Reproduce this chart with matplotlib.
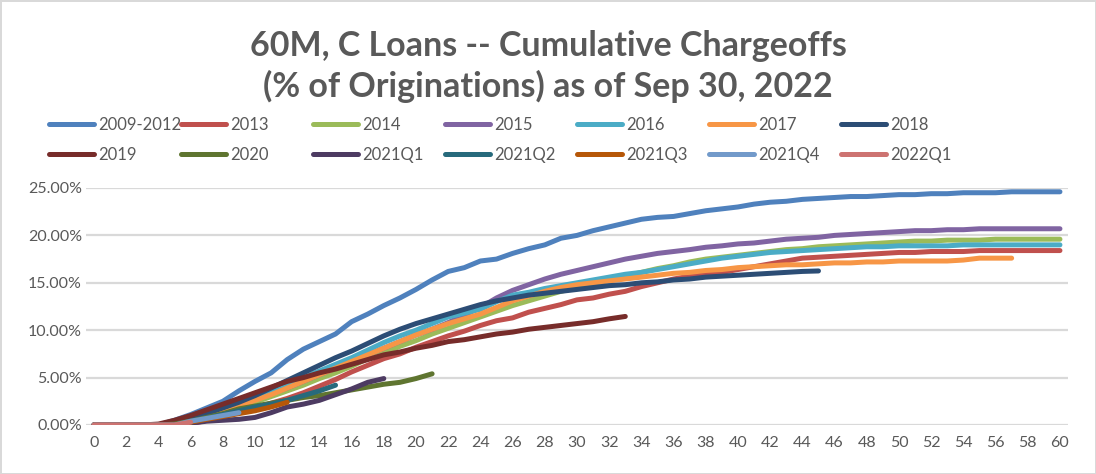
import numpy as np
import matplotlib
matplotlib.use("Agg")
import matplotlib.pyplot as plt
from matplotlib.ticker import FuncFormatter, MultipleLocator

# ---------------- data ----------------
months = list(range(61))
tick_months = list(range(0, 61, 2))

labels = ["2009-2012", "2013", "2014", "2015", "2016", "2017", "2018",
          "2019", "2020", "2021Q1", "2021Q2", "2021Q3", "2021Q4", "2022Q1"]

s_2009_2012 = [0, 0, 0, 0, 0, 0.5, 1.1, 1.8, 2.5, 3.6, 4.6, 5.5, 6.9, 8.0, 8.8, 9.6,
               10.9, 11.7, 12.6, 13.4, 14.3, 15.3, 16.2, 16.6, 17.3, 17.5, 18.1, 18.6,
               19.0, 19.7, 20.0, 20.5, 20.9, 21.3, 21.7, 21.9, 22.0, 22.3, 22.6, 22.8,
               23.0, 23.3, 23.5, 23.6, 23.8, 23.9, 24.0, 24.1, 24.1, 24.2, 24.3, 24.3,
               24.4, 24.4, 24.5, 24.5, 24.5, 24.6, 24.6, 24.6, 24.6]
s_2013 = [0, 0, 0, 0, 0, 0, 0.1, 0.5, 0.9, 1.3, 1.8, 2.3, 2.8, 3.4, 4.1, 4.8, 5.6,
          6.3, 7.0, 7.5, 8.2, 8.8, 9.4, 9.9, 10.5, 11.0, 11.3, 11.9, 12.3, 12.7, 13.2,
          13.4, 13.8, 14.1, 14.6, 15.0, 15.4, 15.7, 15.9, 16.1, 16.4, 16.7, 17.0,
          17.3, 17.6, 17.7, 17.8, 17.9, 18.0, 18.1, 18.2, 18.2, 18.3, 18.3, 18.3,
          18.4, 18.4, 18.4, 18.4, 18.4, 18.4]
s_2014 = [0, 0, 0, 0, 0, 0.1, 0.4, 0.8, 1.3, 1.8, 2.4, 3.0, 3.6, 4.2, 4.9, 5.5, 6.2,
          7.0, 7.6, 8.3, 8.9, 9.6, 10.2, 10.8, 11.4, 12.0, 12.6, 13.1, 13.6, 14.1,
          14.5, 14.9, 15.3, 15.7, 16.1, 16.5, 16.8, 17.2, 17.5, 17.7, 17.9, 18.1,
          18.3, 18.5, 18.6, 18.8, 18.9, 19.0, 19.1, 19.2, 19.3, 19.4, 19.4, 19.5,
          19.5, 19.5, 19.6, 19.6, 19.6, 19.6, 19.6]
s_2015 = [0, 0, 0, 0, 0, 0.2, 0.5, 1.0, 1.5, 2.1, 2.7, 3.3, 3.9, 4.6, 5.3, 6.0, 6.7,
          7.4, 8.1, 8.8, 9.5, 10.1, 10.8, 11.6, 12.4, 13.4, 14.2, 14.8, 15.4, 15.9,
          16.3, 16.7, 17.1, 17.5, 17.8, 18.1, 18.3, 18.5, 18.75, 18.9, 19.1, 19.2,
          19.4, 19.6, 19.7, 19.8, 20.0, 20.1, 20.2, 20.3, 20.4, 20.5, 20.5, 20.6,
          20.6, 20.7, 20.7, 20.7, 20.7, 20.7, 20.7]
s_2016 = [0, 0, 0, 0, 0, 0.2, 0.6, 1.1, 1.7, 2.3, 2.9, 3.6, 4.3, 5.0, 5.7, 6.4, 7.1,
          7.9, 8.7, 9.4, 10.0, 10.7, 11.4, 11.8, 12.2, 13.0, 13.7, 14.0, 14.4, 14.7,
          15.0, 15.3, 15.6, 15.9, 16.1, 16.4, 16.7, 17.0, 17.3, 17.6, 17.8, 18.0,
          18.2, 18.3, 18.4, 18.5, 18.6, 18.7, 18.8, 18.8, 18.9, 18.9, 18.9, 18.9,
          19.0, 19.0, 19.0, 19.0, 19.0, 19.0, 19.0]
s_2017 = [0, 0, 0, 0, 0, 0.1, 0.4, 0.9, 1.4, 2.0, 2.6, 3.2, 3.9, 4.6, 5.3, 6.0, 6.7,
          7.4, 8.1, 8.8, 9.5, 10.1, 10.7, 11.2, 11.7, 12.4, 13.1, 13.6, 14.1, 14.5,
          14.8, 15.0, 15.2, 15.4, 15.6, 15.8, 16.0, 16.1, 16.3, 16.4, 16.6, 16.7,
          16.8, 16.9, 16.9, 17.0, 17.1, 17.1, 17.2, 17.2, 17.3, 17.3, 17.3, 17.3,
          17.4, 17.6, 17.6, 17.6]
s_2018 = [0, 0, 0, 0, 0, 0.2, 0.7, 1.2, 1.8, 2.4, 3.1, 3.9, 4.7, 5.5, 6.3, 7.1, 7.8,
          8.6, 9.4, 10.1, 10.7, 11.2, 11.7, 12.2, 12.7, 13.1, 13.4, 13.7, 13.9, 14.1,
          14.3, 14.5, 14.7, 14.8, 15.0, 15.1, 15.3, 15.4, 15.6, 15.7, 15.8, 15.9,
          16.0, 16.1, 16.2, 16.25]
s_2019 = [0, 0, 0, 0, 0.1, 0.5, 1.0, 1.6, 2.2, 2.8, 3.4, 4.0, 4.6, 5.0, 5.5, 5.9, 6.4,
          6.9, 7.4, 7.7, 8.1, 8.4, 8.8, 9.0, 9.3, 9.6, 9.8, 10.1, 10.3, 10.5, 10.7,
          10.9, 11.2, 11.45]
s_2020 = [0, 0, 0, 0, 0, 0.1, 0.4, 0.8, 1.2, 1.7, 2.0, 2.3, 2.6, 2.9, 3.1, 3.4, 3.7,
          4.0, 4.3, 4.5, 4.9, 5.4]
s_2021q1 = [0, 0, 0, 0, 0, 0, 0.2, 0.4, 0.5, 0.6, 0.8, 1.3, 1.9, 2.2, 2.6, 3.2, 3.8,
            4.5, 4.9]
s_2021q2 = [0, 0, 0, 0, 0, 0, 0.3, 0.7, 1.1, 1.5, 1.9, 2.2, 2.6, 3.1, 3.6, 4.2]
s_2021q3 = [0, 0, 0, 0, 0, 0, 0.3, 0.6, 0.9, 1.2, 1.5, 1.9, 2.4]
s_2021q4 = [0, 0, 0, 0, 0, 0, 0.4, 0.7, 1.0, 1.3]
s_2022q1 = [0, 0, 0, 0, 0, 0, 0.3]

series = [s_2009_2012, s_2013, s_2014, s_2015, s_2016, s_2017, s_2018,
          s_2019, s_2020, s_2021q1, s_2021q2, s_2021q3, s_2021q4, s_2022q1]

colors = ["#4F81BD", "#C0504D", "#9BBB59", "#8064A2", "#4BACC6", "#F79646", "#2C4D75",
          "#772C2A", "#5F7530", "#4D3B62", "#276A7C", "#B65708", "#729ACA", "#CD7371"]

# ---------------- figure ----------------
FONT = "Lato"
TXT = "#595959"
GRID = "#D9D9D9"

fig = plt.figure(figsize=(10.96, 4.74), dpi=100)
fig.patch.set_facecolor("white")
fig.patch.set_edgecolor(GRID)
fig.patch.set_linewidth(2)

ax = fig.add_axes([86 / 1096, 1 - 425 / 474, (1068 - 86) / 1096, (425 - 188) / 474])

for lab, ys, col in zip(labels, series, colors):
    ax.plot(months[:len(ys)], ys, color=col, lw=3.6, label=lab,
            solid_capstyle="round", solid_joinstyle="round")

ax.set_xlim(-0.5, 60.5)
ax.set_ylim(0, 25)
ax.set_xticks(tick_months)
ax.set_xticklabels([str(t) for t in tick_months])
ax.yaxis.set_major_locator(MultipleLocator(5))
ax.yaxis.set_major_formatter(FuncFormatter(lambda v, p: f"{v:.2f}%"))
ax.grid(axis="y", color=GRID, lw=1.6)
ax.set_axisbelow(True)
for s in ax.spines.values():
    s.set_visible(False)
ax.tick_params(length=0, colors=TXT, labelsize=11.5)
ax.tick_params(axis="x", pad=8)
ax.tick_params(axis="y", pad=3)
for t in ax.get_xticklabels() + ax.get_yticklabels():
    t.set_fontfamily(FONT)

fig.text(0.5, 1 - 46 / 474, "60M, C Loans -- Cumulative Chargeoffs",
         ha="center", va="center", fontsize=24.5, fontweight="bold", color=TXT, family=FONT)
fig.text(0.5, 1 - 86 / 474, "(% of Originations) as of Sep 30, 2022",
         ha="center", va="center", fontsize=24.5, fontweight="bold", color=TXT, family=FONT)

# legend: 7 equal-width columns, 2 rows
lines = ax.get_lines()
col_x = [53 + 132 * i for i in range(7)]
for i in range(7):
    handles = [lines[i], lines[i + 7]]
    fig.legend(handles, [labels[i], labels[i + 7]],
               loc="upper left", bbox_to_anchor=(col_x[i] / 1096 - 0.004, 1 - 117 / 474),
               frameon=False, ncol=1, handlelength=2.75, handletextpad=0.2,
               labelspacing=0.85, borderaxespad=0, borderpad=0,
               prop={"family": FONT, "size": 12}, labelcolor=TXT)

fig.savefig("out.png", dpi=100, facecolor="white", edgecolor=GRID)
